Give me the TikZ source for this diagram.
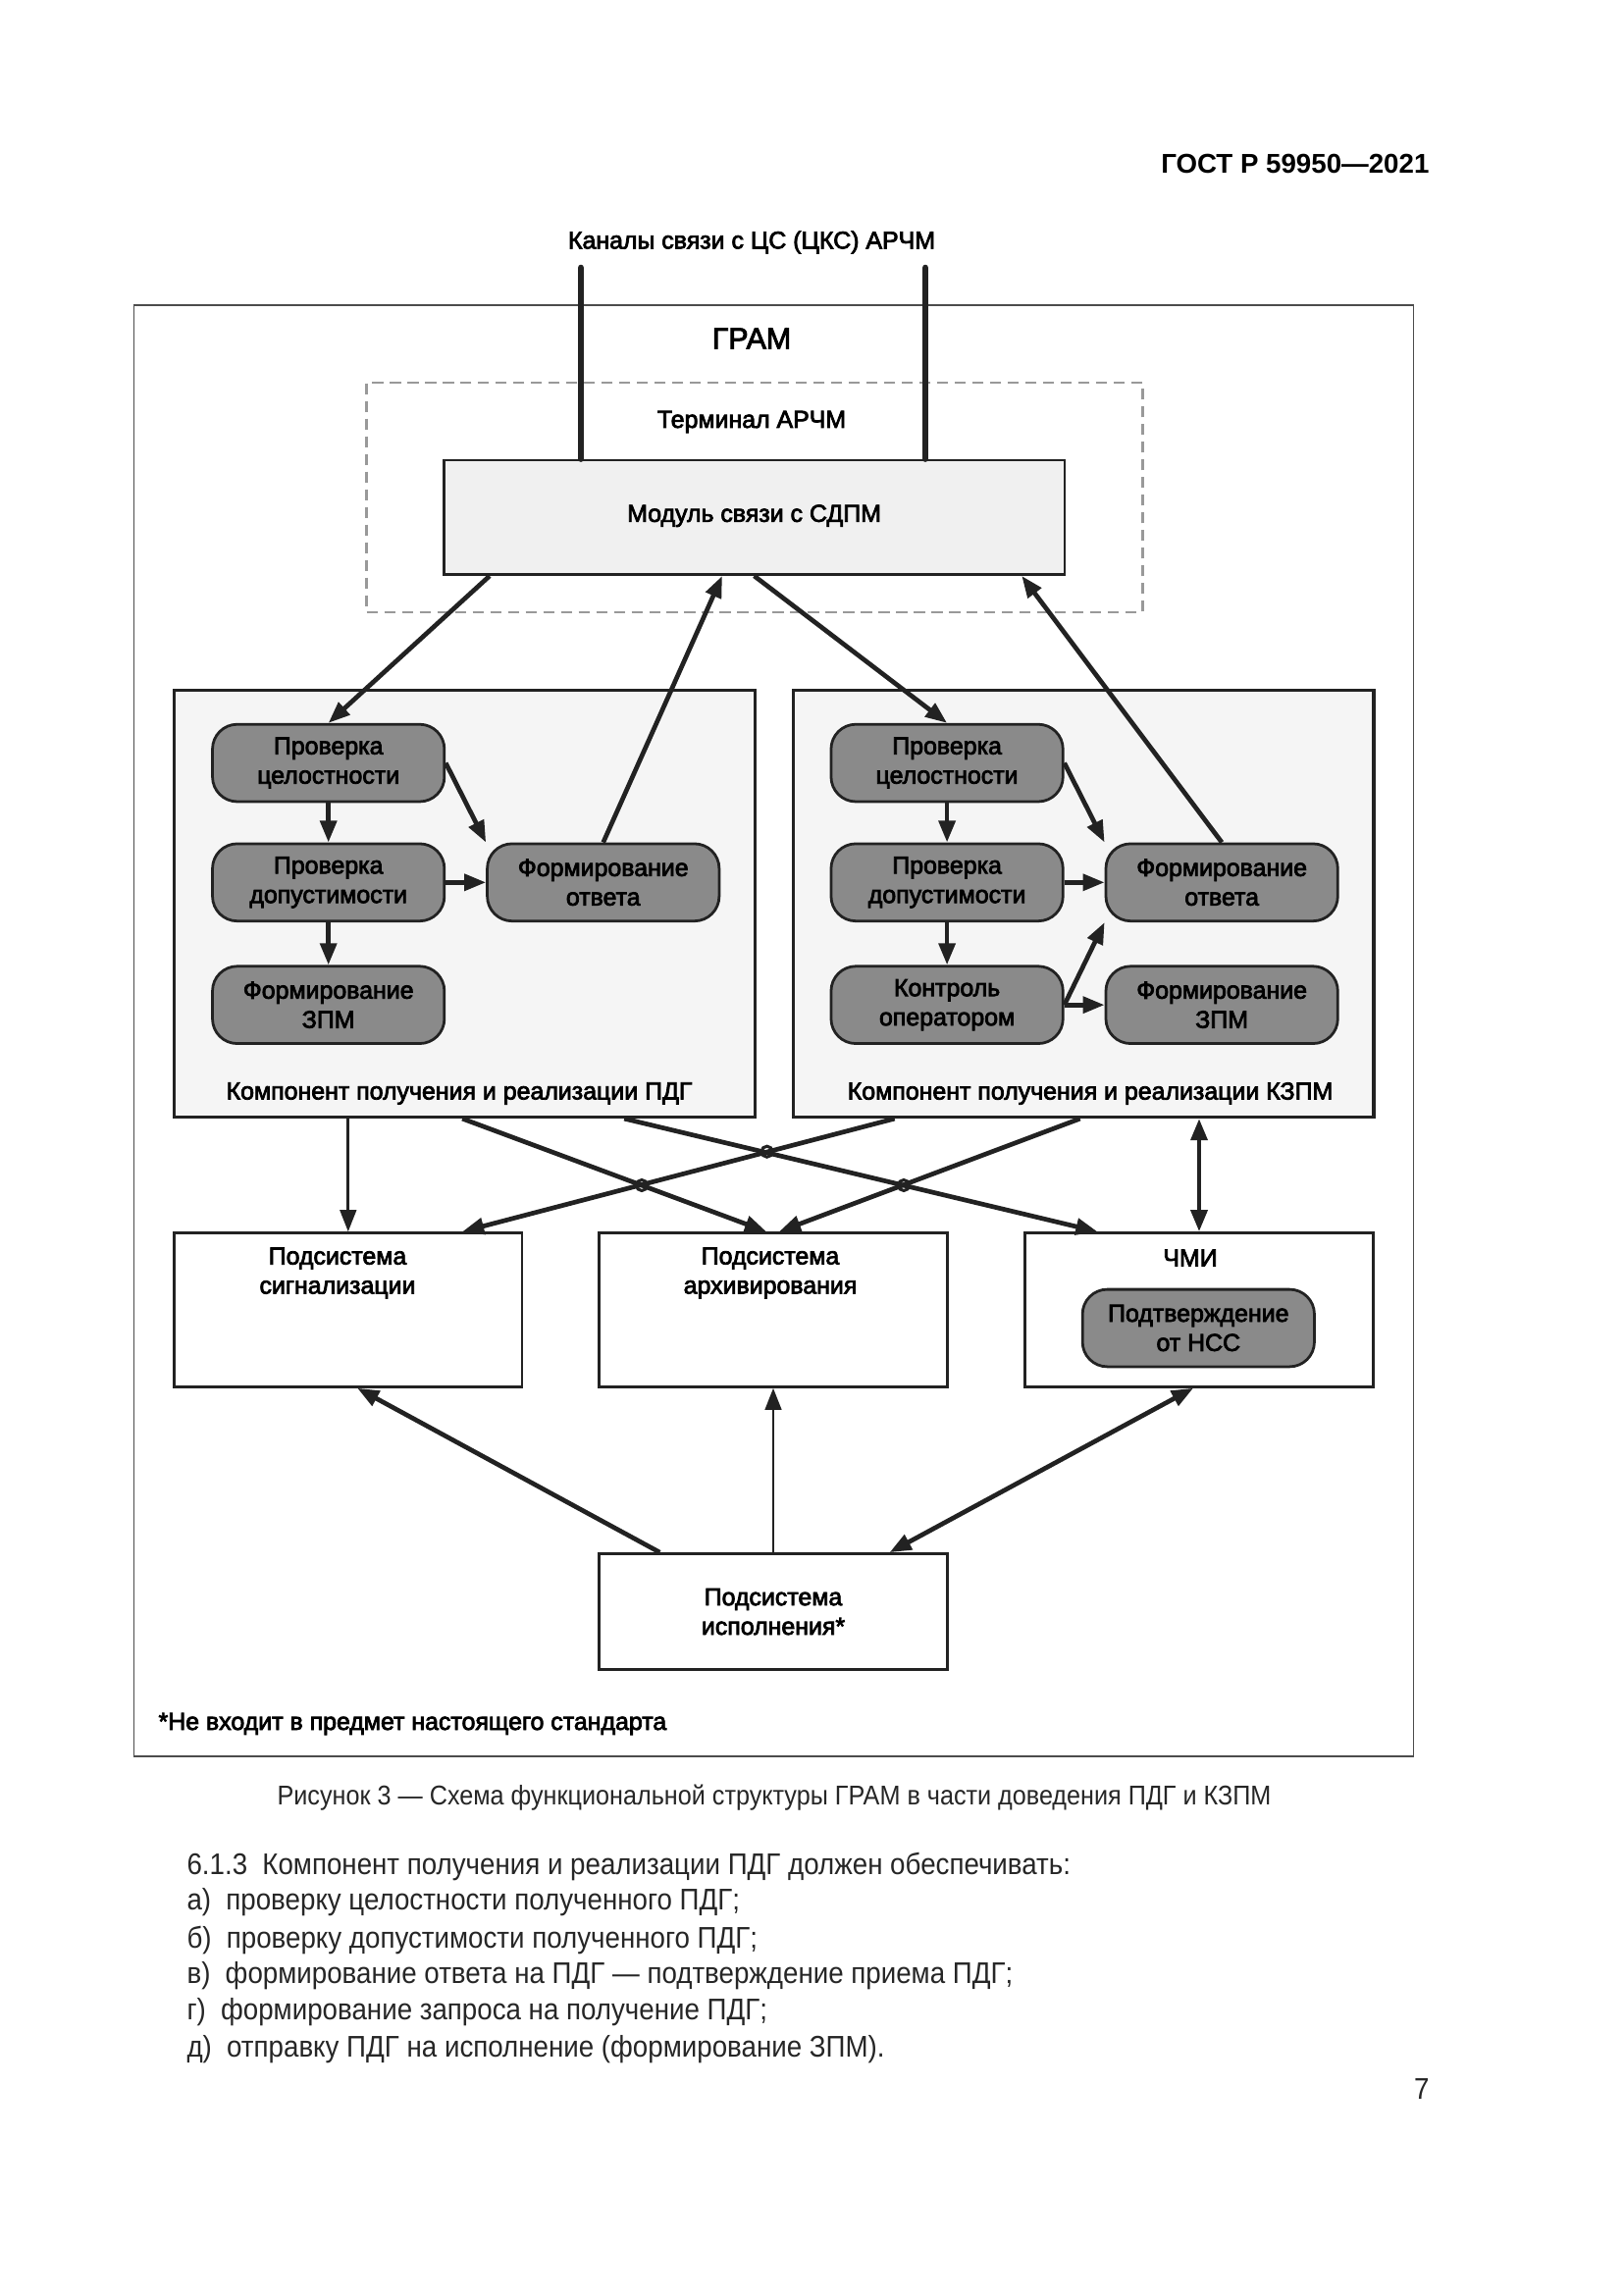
\documentclass[tikz,border=0pt]{standalone}
\usepackage{fontspec}
\setmainfont{Liberation Sans}
\newfontfamily\dgfont[FakeBold=3]{Liberation Sans}
\newfontfamily\pagefont[FakeStretch=0.91]{Liberation Sans}
\usepackage{xcolor}
\usetikzlibrary{
	arrows.meta,
	calc,
	positioning,
	}
\definecolor{stepgray}{HTML}{8A8A8A}
\definecolor{inkgray}{HTML}{222222}

\tikzset{
	grambox/.style={draw=black!70, line width=0.6pt, minimum width=16.55cm, minimum height=18.78cm},
	termbox/.style={draw=black!40, dash pattern=on 4pt off 2.5pt, line width=0.8pt, minimum width=10.04cm, minimum height=2.98cm},
	modbox/.style={draw=inkgray, fill=black!6, line width=1pt, minimum width=8.03cm, minimum height=1.48cm},
	kompbox/.style={draw=inkgray, fill=black!4, line width=1.2pt, minimum width=7.51cm, minimum height=5.52cm},
	stepbox/.style={draw=inkgray, fill=stepgray, rounded corners=0.32cm, line width=1pt, minimum width=3cm, minimum height=1cm},
	subbox/.style={draw=inkgray, line width=1pt, minimum width=4.5cm, minimum height=1.99cm},
	link/.style={->, draw=inkgray, line width=1.7pt},
	thinlink/.style={->, draw=inkgray, line width=1pt},
	hop/.style={draw=inkgray, line width=1.1pt},
	pagetext/.style={font=\pagefont\fontsize{11}{13.5}\selectfont, text=black!85, anchor=west},
}

\begin{document}
\begin{tikzpicture}[x=0.0127cm, y=-0.0127cm,
	>={Triangle[length=2.8mm,width=2.1mm]},
	every node/.style={inner sep=0pt, align=center, font=\dgfont\fontsize{9}{10.8}\selectfont}]
	\fill[white] (0,0) rectangle (1654,2339);
	\useasboundingbox (0,0) rectangle (1654,2339);

	% page header
	\node[anchor=east, font=\normalfont\bfseries\fontsize{10}{12}\selectfont] (hdr) at (1457,167) {ГОСТ Р 59950—2021};

	% frame of GRAM and terminal
	\node[grambox] (gram) at (788.5,1050.5) {};
	\node (gramlbl) at (766,345) {\fontsize{11}{13}\selectfont ГРАМ};
	\node[termbox] (term) at (769,507) {};
	\node (termlbl) at (766,430) {Терминал АРЧМ};
	\node[modbox] (modul) at (768.6,527.3) {\raisebox{3pt}{Модуль связи с СДПМ}};

	% channels
	\node (chanlbl) at (766,247) {Каналы связи с ЦС (ЦКС) АРЧМ};
	\coordinate (ch1) at (592,273);
	\coordinate (ch2) at (943,273);
	\draw[inkgray, line width=2.4pt, line cap=round] (ch1) -- (ch1 |- modul.north);
	\draw[inkgray, line width=2.4pt, line cap=round] (ch2) -- (ch2 |- modul.north);

	% components
	\node[kompbox] (kompL) at (473.6,921) {};
	\node[kompbox] (kompR) at (1104.1,921) {};
	\node (kompLlbl) at (468,1114.5) {Компонент получения и реализации ПДГ};
	\node (kompRlbl) at (1111,1114.5) {Компонент получения и реализации КЗПМ};

	\node[stepbox] (pcL) at (334.7,777.6) {Проверка\\целостности};
	\node[stepbox, below=0.51cm of pcL] (pdL) {Проверка\\допустимости};
	\node[stepbox, below=0.55cm of pdL] (fzL) {Формирование\\ЗПМ};
	\node[stepbox, right=0.52cm of pdL] (foL) {Формирование\\ответа};

	\node[stepbox] (pcR) at (965.1,777.6) {Проверка\\целостности};
	\node[stepbox, below=0.51cm of pcR] (pdR) {Проверка\\допустимости};
	\node[stepbox, below=0.55cm of pdR] (koR) {Контроль\\оператором};
	\node[stepbox, right=0.52cm of pdR] (foR) {Формирование\\ответа};
	\node[stepbox, right=0.52cm of koR] (fzR) {Формирование\\ЗПМ};

	% subsystems
	\node[subbox] (signal) at (354.8,1335) {};
	\node[subbox] (arch) at (788,1335) {};
	\node[subbox] (chmi) at (1222,1335) {};
	\node (signallbl) at (344,1297.5) {Подсистема\\сигнализации};
	\node (archlbl) at (785,1297.5) {Подсистема\\архивирования};
	\node (chmilbl) at (1213,1282) {ЧМИ};
	\node[stepbox] (nss) at (1221.3,1353.5) {Подтверждение\\от НСС};
	\node[subbox, minimum height=1.5cm] (ispoln) at (788,1642.6) {Подсистема\\исполнения*};

	\node[anchor=west] (fnote) at (161,1757) {*Не входит в предмет настоящего стандарта};

	% links with the module
	\draw[link] ($(modul.south west)+(48,0)$) -- (pcL.north);
	\draw[link] (foL.north) -- ($(modul.south west)+(285,0)$);
	\draw[link] (modul.south) -- (pcR.north);
	\draw[link] (foR.north) -- ($(modul.south east)+(-45,0)$);

	% inside the components
	\draw[link] (pcL) -- (pdL);
	\draw[link] (pcL.east) -- (foL.north west);
	\draw[link] (pdL) -- (foL);
	\draw[link] (pdL) -- (fzL);
	\draw[link] (pcR) -- (pdR);
	\draw[link] (pcR.east) -- (foR.north west);
	\draw[link] (pdR) -- (foR);
	\draw[link] (pdR) -- (koR);
	\draw[link] (koR.east) -- (foR.south west);
	\draw[link] (koR) -- (fzR);

	% components to subsystems
	\draw[thinlink] (signal.north |- kompL.south) -- (signal.north);
	\draw[link] ($(kompL.south west)+(295,0)$) -- ($(arch.north)+(-7,0)$);
	\draw[link] ($(kompL.south west)+(460,0)$) -- ($(chmi.north west)+(75,0)$);
	\draw[link] ($(kompR.south west)+(105,0)$) -- ($(signal.north west)+(295,0)$);
	\draw[link] ($(kompR.south west)+(294,0)$) -- ($(arch.north)+(6,0)$);
	\draw[link, <->] (chmi.north |- kompR.south) -- (chmi.north);
	% hops where the links cross
	\coordinate (hop1) at (654,1208);
	\coordinate (hop2) at (781.6,1173.7);
	\coordinate (hop3) at (921,1208);
	\draw[hop] (hop1) circle[radius=0.7mm];
	\draw[hop] (hop2) circle[radius=0.7mm];
	\draw[hop] (hop3) circle[radius=0.7mm];

	% execution subsystem
	\draw[link] ($(ispoln.north west)+(63,0)$) -- ($(signal.south west)+(188,0)$);
	\draw[thinlink] (ispoln.north) -- (arch.south);
	\draw[link, <->] ($(chmi.south)+(-6,0)$) -- ($(ispoln.north east)+(-60,0)$);

	% caption and text of the page
	\node[font=\pagefont\fontsize{10}{12}\selectfont, text=black!85] (caption) at (789,1832) {Рисунок 3 — Схема функциональной структуры ГРАМ в части доведения ПДГ и КЗПМ};
	\node[pagetext] (par0) at (190,1902) {6.1.3\enspace Компонент получения и реализации ПДГ должен обеспечивать:};
	\node[pagetext] (par1) at (190,1939) {а)\enspace проверку целостности полученного ПДГ;};
	\node[pagetext] (par2) at (190,1977) {б)\enspace проверку допустимости полученного ПДГ;};
	\node[pagetext] (par3) at (190,2014) {в)\enspace формирование ответа на ПДГ — подтверждение приема ПДГ;};
	\node[pagetext] (par4) at (190,2051) {г)\enspace формирование запроса на получение ПДГ;};
	\node[pagetext] (par5) at (190,2089) {д)\enspace отправку ПДГ на исполнение (формирование ЗПМ).};
	\node[pagetext, anchor=east] (pageno) at (1457,2129) {7};
\end{tikzpicture}
\end{document}
